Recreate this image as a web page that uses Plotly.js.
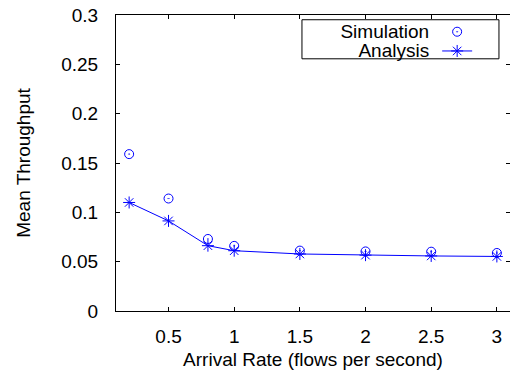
<!DOCTYPE html>
<html>
<head>
<meta charset="utf-8">
<script src="https://cdn.plot.ly/plotly-3.0.1.min.js"></script>
<style>html,body{margin:0;padding:0;background:#fff;}#chart{width:510px;height:374px;}</style>
</head>
<body>
<div id="chart"></div>
<script>
const arrivalRate = [0.2, 0.5, 0.8, 1, 1.5, 2, 2.5, 3];
const simulation = [0.159, 0.114, 0.073, 0.066, 0.0612, 0.0604, 0.0601, 0.0588];
const analysis = [0.110, 0.0913, 0.0662, 0.0611, 0.0578, 0.0566, 0.0558, 0.0553];
const xTicks = [0.5, 1, 1.5, 2, 2.5, 3];
const yTicks = [0, 0.05, 0.1, 0.15, 0.2, 0.25, 0.3];
const seriesNames = ['Simulation', 'Analysis'];

const FONT = 'Liberation Sans, Arial, Helvetica, sans-serif';
const BLUE = '#0000ff';

const traces = [
  {
    x: arrivalRate, y: simulation, name: '', legend: 'legend', type: 'scatter', mode: 'markers',
    marker: {symbol: 'circle-open-dot', size: 9, color: BLUE, line: {width: 1, color: BLUE}}
  },
  {
    x: arrivalRate, y: analysis, name: '', legend: 'legend2', type: 'scatter', mode: 'lines+markers',
    line: {color: BLUE, width: 1},
    marker: {symbol: 'asterisk-open', size: 10, color: BLUE, line: {width: 1, color: BLUE}}
  }
];

const axisCommon = {
  showgrid: false, zeroline: false, showline: true, mirror: 'allticks',
  linecolor: '#000', linewidth: 1, ticks: 'inside', ticklen: 4, tickcolor: '#000',
  tickfont: {family: FONT, size: 19, color: '#000'}
};

function legendFor(name, yc) {
  return {
    title: {text: name, side: 'left', font: {family: FONT, size: 19, color: '#000'}},
    x: 0.93, xanchor: 'right', y: yc, yanchor: 'middle',
    borderwidth: 0, bgcolor: 'rgba(0,0,0,0)',
    font: {family: FONT, size: 19, color: '#000'}, itemwidth: 30
  };
}

const layout = {
  width: 510, height: 374,
  margin: {l: 116, r: 0, t: 15, b: 63},
  paper_bgcolor: '#fff', plot_bgcolor: '#fff',
  font: {family: FONT, size: 19, color: '#000'},
  xaxis: Object.assign({}, axisCommon, {
    range: [0.1, 3.1], tickvals: xTicks, ticktext: xTicks.map(String),
    title: {text: 'Arrival Rate (flows per second)', font: {family: FONT, size: 19}, standoff: 6},
    ticklabelstandoff: 8
  }),
  yaxis: Object.assign({}, axisCommon, {
    range: [0, 0.3], tickvals: yTicks, ticktext: yTicks.map(String),
    title: {text: 'Mean Throughput', font: {family: FONT, size: 19}, standoff: 25},
    ticklabelstandoff: 13
  }),
  showlegend: true,
  legend: legendFor(seriesNames[0], 0.943),
  legend2: legendFor(seriesNames[1], 0.878),
  shapes: [{
    type: 'rect', xref: 'paper', yref: 'paper',
    x0: 0.472, x1: 0.972, y0: 0.852, y1: 0.984,
    line: {color: '#000', width: 1}, fillcolor: '#fff', layer: 'below'
  }]
};

Plotly.newPlot('chart', traces, layout, {staticPlot: true, displayModeBar: false});
</script>
</body>
</html>
